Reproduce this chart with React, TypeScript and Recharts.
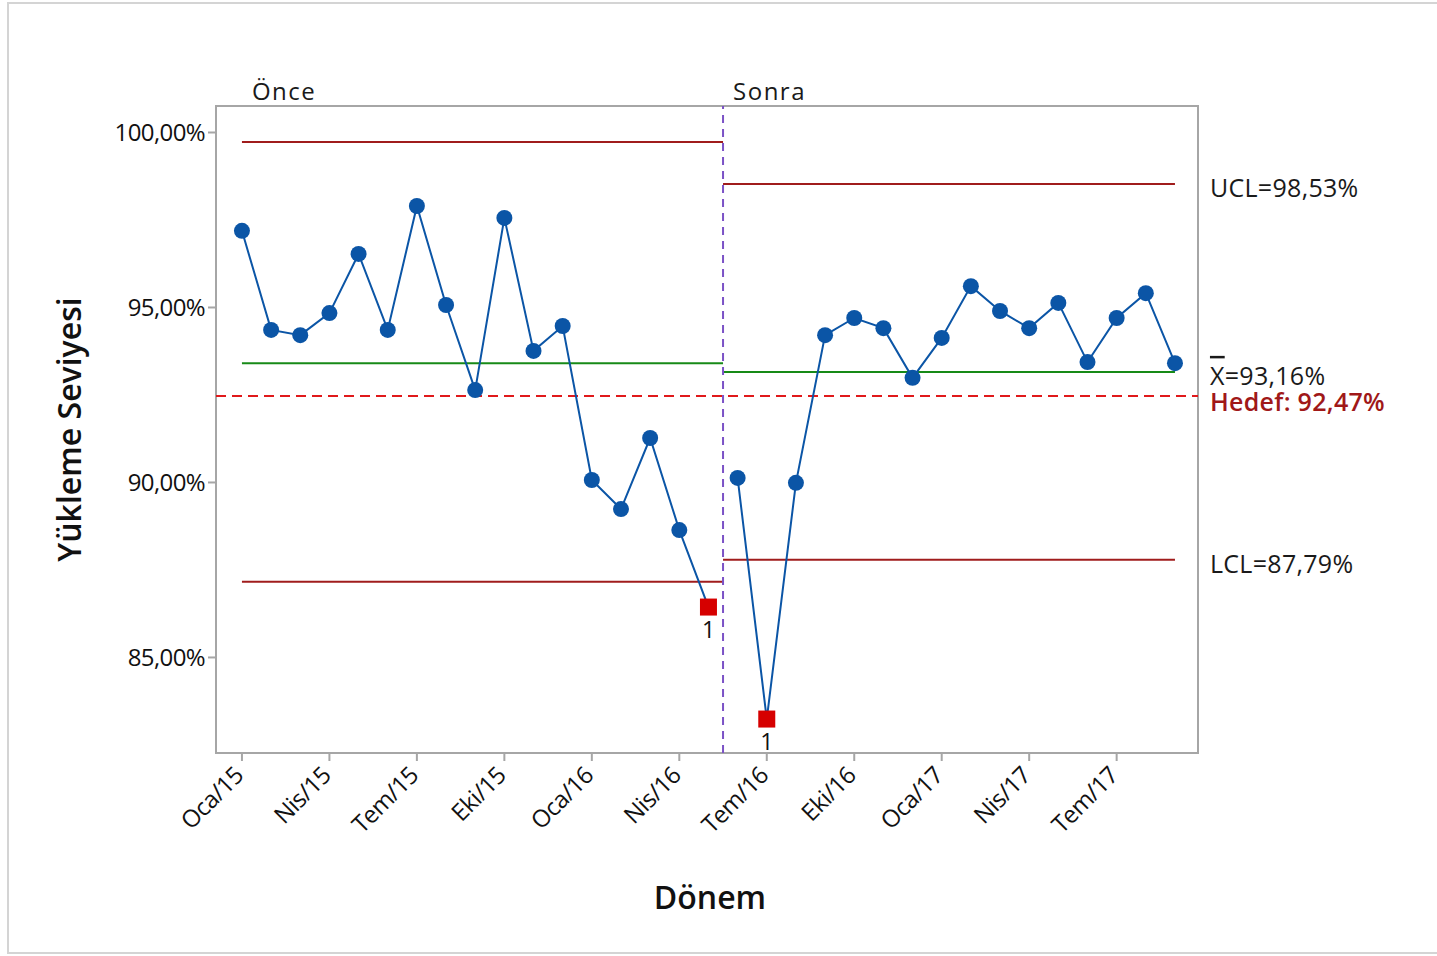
import React from "react";
import {
  LineChart,
  Line,
  XAxis,
  YAxis,
  ReferenceLine,
  ReferenceArea,
} from "recharts";

// ---------- data ----------
const months = [
  "Oca/15", "Şub/15", "Mar/15", "Nis/15", "May/15", "Haz/15", "Tem/15", "Ağu/15", "Eyl/15", "Eki/15", "Kas/15", "Ara/15",
  "Oca/16", "Şub/16", "Mar/16", "Nis/16", "May/16", "Haz/16", "Tem/16", "Ağu/16", "Eyl/16", "Eki/16", "Kas/16", "Ara/16",
  "Oca/17", "Şub/17", "Mar/17", "Nis/17", "May/17", "Haz/17", "Tem/17", "Ağu/17", "Eyl/17",
];
const beforeValues = [
  97.19, 94.36, 94.21, 94.84, 96.53, 94.36, 97.9, 95.07, 92.64, 97.56, 93.76, 94.47,
  90.07, 89.24, 91.27, 88.64, 86.44,
];
const afterValues = [
  90.13, 83.24, 89.99, 94.21, 94.7, 94.41, 92.99, 94.13, 95.61, 94.9, 94.41, 95.13,
  93.44, 94.7, 95.41, 93.41,
];
const flaggedIndices = [16, 18];
const tickIndices = [0, 3, 6, 9, 12, 15, 18, 21, 24, 27, 30];
const yTicks = [85, 90, 95, 100];

const stageBreak = 16.5;
const before = { ucl: 99.73, cl: 93.41, lcl: 87.16 };
const after = { ucl: 98.53, cl: 93.16, lcl: 87.79 };
const target = 92.47;

const xDomain = [-0.89, 32.79];
const yDomain = [82.27, 100.757];

const data = months.map((m, i) => ({
  idx: i,
  month: m,
  before: i < beforeValues.length ? beforeValues[i] : null,
  after: i >= beforeValues.length ? afterValues[i - beforeValues.length] : null,
}));

// ---------- styling ----------
const FONT = "'Open Sans', 'Noto Sans', 'DejaVu Sans', sans-serif";
const BLUE = "#0b55a6";
const FLAG = "#d60000";
const LIMIT = "#a01c1c";
const CENTER = "#178a17";
const TARGET = "#e0191b";
const STAGE = "#7b52c6";
const FRAME = "#a6a6a6";

const fmtPct = (v: number) => v.toFixed(2).replace(".", ",") + "%";

const Dot = (props: any) => {
  const { cx, cy, payload } = props;
  if (cx == null || cy == null || !payload) return null;
  if (flaggedIndices.includes(payload.idx)) {
    return (
      <g key={`d-${payload.idx}`}>
        <rect x={cx - 8.5} y={cy - 8.5} width={17} height={17} fill={FLAG} />
        <text
          x={cx}
          y={cy + 31}
          textAnchor="middle"
          fontSize={23}
          fontFamily={FONT}
          fill="#111"
        >
          1
        </text>
      </g>
    );
  }
  return <circle key={`d-${payload.idx}`} cx={cx} cy={cy} r={8} fill={BLUE} />;
};

const XTick = (props: any) => {
  const { x, y, payload } = props;
  return (
    <g transform={`translate(${x - 3},${y + 8})`}>
      <text
        x={0}
        y={0}
        dy="0.35em"
        transform="rotate(-45)"
        textAnchor="end"
        fontSize={24}
        fontFamily={FONT}
        letterSpacing={-0.6}
        fill="#111"
      >
        {months[payload.value]}
      </text>
    </g>
  );
};

const rightLabel = (text: string, color = "#1a1a1a", weight = 400, dy = 3, bar = false) =>
  (props: any) => {
    const vb = props.viewBox || {};
    const x = (vb.x ?? 0) + (vb.width ?? 0) + 35;
    const y = (vb.y ?? 0) + dy;
    return (
      <text
        x={x}
        y={y}
        dominantBaseline="central"
        fontSize={25}
        fontFamily={FONT}
        fontWeight={weight}
        letterSpacing={0.3}
        fill={color}
      >
        {bar ? (
          <>
            <tspan style={{ textDecoration: "overline" }}>X</tspan>
            <tspan>{text}</tspan>
          </>
        ) : (
          text
        )}
      </text>
    );
  };

const stageLabel = (text: string) => (props: any) => {
  const vb = props.viewBox || {};
  return (
    <text
      x={(vb.x ?? 0) + 10}
      y={(vb.y ?? 0) - 6}
      fontSize={24}
      fontFamily={FONT}
      letterSpacing={1.5}
      fill="#1a1a1a"
    >
      {text}
    </text>
  );
};

const yAxisLabel = (props: any) => {
  const vb = props.viewBox || {};
  const cx = (vb.x ?? 0) - 48;
  const cy = (vb.y ?? 0) + (vb.height ?? 0) / 2;
  return (
    <text
      x={cx}
      y={cy}
      transform={`rotate(-90, ${cx}, ${cy})`}
      textAnchor="middle"
      dominantBaseline="central"
      fontSize={32}
      fontWeight={600}
      fontFamily={FONT}
      fill="#111"
    >
      Yükleme Seviyesi
    </text>
  );
};

const xAxisLabel = (props: any) => {
  const vb = props.viewBox || {};
  const cx = (vb.x ?? 0) + (vb.width ?? 0) / 2 + 3;
  const cy = (vb.y ?? 0) + 143;
  return (
    <text
      x={cx}
      y={cy}
      textAnchor="middle"
      dominantBaseline="central"
      fontSize={32}
      fontWeight={600}
      fontFamily={FONT}
      fill="#111"
    >
      Dönem
    </text>
  );
};

export default function App() {
  return (
    <div style={{ position: "absolute", left: 0, top: 0, width: 1437, height: 956 }}>
      <div
        style={{
          position: "absolute",
          left: 7,
          top: 2,
          width: 1440,
          height: 952,
          border: "2px solid #d4d4d4",
          boxSizing: "border-box",
        }}
      />
      <div style={{ position: "absolute", left: 0, top: 0 }}>
        <LineChart
          width={1437}
          height={956}
          data={data}
          margin={{ top: 106, right: 239, left: 116, bottom: 103 }}
        >
          <XAxis
            dataKey="idx"
            type="number"
            domain={xDomain}
            allowDataOverflow
            ticks={tickIndices}
            tick={<XTick />}
            tickSize={8}
            tickLine={{ stroke: FRAME, strokeWidth: 2 }}
            axisLine={false}
            height={100}
            interval={0}
            label={{ content: xAxisLabel }}
          />
          <YAxis
            type="number"
            domain={yDomain}
            allowDataOverflow
            ticks={yTicks}
            tickFormatter={fmtPct}
            tickSize={8}
            tickMargin={3}
            tickLine={{ stroke: FRAME, strokeWidth: 2 }}
            axisLine={false}
            width={100}
            tick={{ fontSize: 24, fill: "#111", fontFamily: FONT, letterSpacing: -0.6 }}
            label={{ content: yAxisLabel }}
          />
          <ReferenceArea
            x1={xDomain[0]}
            x2={xDomain[1]}
            y1={yDomain[0]}
            y2={yDomain[1]}
            fill="none"
            stroke={FRAME}
            strokeWidth={2}
            ifOverflow="extendDomain"
          />
          {/* stage 1 limits */}
          <ReferenceLine
            segment={[{ x: 0, y: before.ucl }, { x: stageBreak, y: before.ucl }]}
            stroke={LIMIT}
            strokeWidth={2}
          />
          <ReferenceLine
            segment={[{ x: 0, y: before.cl }, { x: stageBreak, y: before.cl }]}
            stroke={CENTER}
            strokeWidth={2}
          />
          <ReferenceLine
            segment={[{ x: 0, y: before.lcl }, { x: stageBreak, y: before.lcl }]}
            stroke={LIMIT}
            strokeWidth={2}
          />
          {/* stage 2 limits */}
          <ReferenceLine
            segment={[{ x: stageBreak, y: after.ucl }, { x: 32, y: after.ucl }]}
            stroke={LIMIT}
            strokeWidth={2}
            label={{ content: rightLabel("UCL=98,53%") }}
          />
          <ReferenceLine
            segment={[{ x: stageBreak, y: after.cl }, { x: 32, y: after.cl }]}
            stroke={CENTER}
            strokeWidth={2}
            label={{ content: rightLabel("=93,16%", "#1a1a1a", 400, 3, true) }}
          />
          <ReferenceLine
            segment={[{ x: stageBreak, y: after.lcl }, { x: 32, y: after.lcl }]}
            stroke={LIMIT}
            strokeWidth={2}
            label={{ content: rightLabel("LCL=87,79%") }}
          />
          {/* target */}
          <ReferenceLine
            y={target}
            stroke={TARGET}
            strokeWidth={2}
            strokeDasharray="10 6"
          />
          <ReferenceLine
            segment={[{ x: 32, y: target }, { x: 32, y: target }]}
            stroke="none"
            label={{ content: rightLabel("Hedef: 92,47%", "#a01818", 600, 5) }}
          />
          {/* stage divider */}
          <ReferenceLine
            x={stageBreak}
            stroke={STAGE}
            strokeWidth={2}
            strokeDasharray="8 6"
            label={{ content: stageLabel("Sonra") }}
          />
          <ReferenceLine
            x={0}
            stroke="none"
            label={{ content: stageLabel("Önce") }}
          />
          <Line
            dataKey="before"
            stroke={BLUE}
            strokeWidth={2}
            dot={<Dot />}
            activeDot={false}
            isAnimationActive={false}
            connectNulls={false}
          />
          <Line
            dataKey="after"
            stroke={BLUE}
            strokeWidth={2}
            dot={<Dot />}
            activeDot={false}
            isAnimationActive={false}
            connectNulls={false}
          />
        </LineChart>
      </div>
    </div>
  );
}
